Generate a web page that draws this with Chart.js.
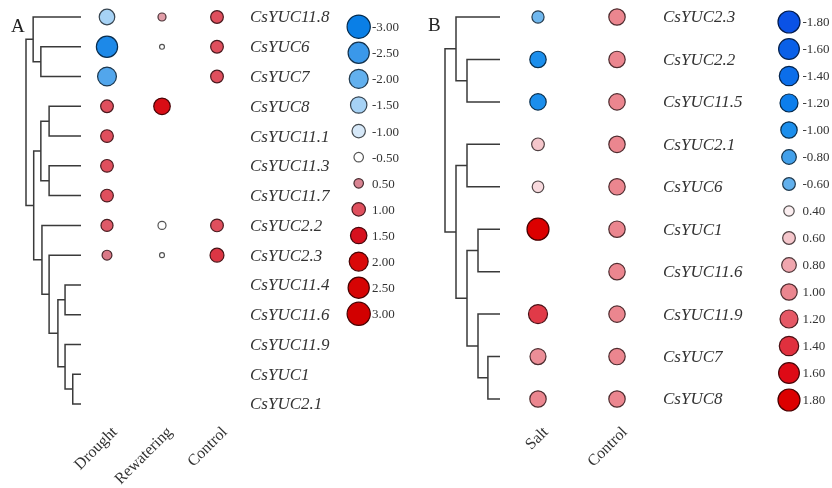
<!DOCTYPE html>
<html>
<head>
<meta charset="utf-8">
<script src="https://cdn.jsdelivr.net/npm/chart.js@4.4.1/dist/chart.umd.min.js"></script>
<style>
  html, body { margin: 0; padding: 0; background: #ffffff; }
  #wrap { display: flex; width: 832px; height: 488px; }
  canvas { display: block; }
</style>
</head>
<body>
<div id="wrap">
  <canvas id="panelA" width="416" height="488"></canvas>
  <canvas id="panelB" width="416" height="488"></canvas>
</div>
<script>
// ---------- Panel A: drought / rewatering ----------
const genesA = ['CsYUC11.8', 'CsYUC6', 'CsYUC7', 'CsYUC8', 'CsYUC11.1', 'CsYUC11.3', 'CsYUC11.7',
                'CsYUC2.2', 'CsYUC2.3', 'CsYUC11.4', 'CsYUC11.6', 'CsYUC11.9', 'CsYUC1', 'CsYUC2.1'];
const conditionsA = ['Drought', 'Rewatering', 'Control'];
const droughtA    = [-1.5, -2.8, -2.2, 1.0, 1.0, 1.0, 1.0, 0.9, 0.6, null, null, null, null, null];
const rewateringA = [0.4, -0.15, null, 1.7, null, null, null, -0.4, -0.15, null, null, null, null, null];
const controlA    = [1.0, 1.0, 1.0, null, null, null, null, 1.0, 1.2, null, null, null, null, null];
const legendA     = [-3.0, -2.5, -2.0, -1.5, -1.0, -0.5, 0.5, 1.0, 1.5, 2.0, 2.5, 3.0];
// cluster tree: [merge height, left, right]
const treeA = [1.0,
  [0.87, 'CsYUC11.8', [0.73, 'CsYUC6', 'CsYUC7']],
  [0.86,
    [0.73, [0.58, 'CsYUC8', 'CsYUC11.1'], [0.58, 'CsYUC11.3', 'CsYUC11.7']],
    [0.71, 'CsYUC2.2',
      [0.58, 'CsYUC2.3',
        [0.42, [0.29, 'CsYUC11.4', 'CsYUC11.6'],
               [0.29, 'CsYUC11.9', [0.15, 'CsYUC1', 'CsYUC2.1']]]]]]];

// ---------- Panel B: salt ----------
const genesB = ['CsYUC2.3', 'CsYUC2.2', 'CsYUC11.5', 'CsYUC2.1', 'CsYUC6', 'CsYUC1',
                'CsYUC11.6', 'CsYUC11.9', 'CsYUC7', 'CsYUC8'];
const conditionsB = ['Salt', 'Control'];
const saltB    = [-0.55, -1.0, -1.0, 0.6, 0.5, 1.8, null, 1.35, 0.95, 1.0];
const controlB = [1.0, 1.0, 1.0, 1.0, 1.0, 1.0, 1.0, 1.0, 1.0, 1.0];
const legendB  = [-1.8, -1.6, -1.4, -1.2, -1.0, -0.8, -0.6, 0.4, 0.6, 0.8, 1.0, 1.2, 1.4, 1.6, 1.8];
const treeB = [1.0,
  [0.8, 'CsYUC2.3', [0.6, 'CsYUC2.2', 'CsYUC11.5']],
  [0.8,
    [0.6, 'CsYUC2.1', 'CsYUC6'],
    [0.6, [0.4, 'CsYUC1', 'CsYUC11.6'],
          [0.4, 'CsYUC11.9', [0.22, 'CsYUC7', 'CsYUC8']]]]];

// ---------- colour ramps (value -> fill) ----------
const rampA = [[-3.0, '#0a7fe6'], [-2.5, '#3a98ea'], [-2.0, '#62b0ee'], [-1.5, '#a6d2f5'],
               [-1.0, '#d6e8f8'], [-0.5, '#ffffff'], [0, '#ffffff'], [0.5, '#d98492'],
               [1.0, '#df4f5d'], [1.5, '#d6101e'], [2.0, '#da0808'], [3.0, '#d20000']];
const rampB = [[-1.8, '#0a52e6'], [-1.6, '#0a60e8'], [-1.4, '#0b6eea'], [-1.2, '#0c7eec'],
               [-1.0, '#1b8eec'], [-0.8, '#42a0ea'], [-0.6, '#62b0ec'], [0, '#ffffff'],
               [0.4, '#fbeef0'], [0.6, '#f5c6cb'], [0.8, '#f0a6ae'], [1.0, '#eb868f'],
               [1.2, '#e55865'], [1.4, '#e0303e'], [1.6, '#de0a16'], [1.8, '#dc0000']];

function hexRgb(h) {
  return [parseInt(h.slice(1, 3), 16), parseInt(h.slice(3, 5), 16), parseInt(h.slice(5, 7), 16)];
}
function rampRgb(ramp, v) {
  if (v <= ramp[0][0]) return hexRgb(ramp[0][1]);
  for (let i = 1; i < ramp.length; i++) {
    if (v <= ramp[i][0]) {
      const t = (v - ramp[i - 1][0]) / (ramp[i][0] - ramp[i - 1][0]);
      const a = hexRgb(ramp[i - 1][1]), b = hexRgb(ramp[i][1]);
      return a.map((c, k) => Math.round(c + (b[k] - c) * t));
    }
  }
  return hexRgb(ramp[ramp.length - 1][1]);
}
const rgbStr = c => `rgb(${c[0]},${c[1]},${c[2]})`;
const fillOf = (ramp, v) => rgbStr(rampRgb(ramp, v));
const edgeOf = (ramp, v) => rgbStr(rampRgb(ramp, v).map(c => Math.round(c * 0.33)));

// linear range so that value a sits at pixel pa and b at pb inside [lo, hi]
function fitRange(a, pa, b, pb, lo, hi) {
  const s = (pb - pa) / (b - a);
  const v1 = a + (lo - pa) / s, v2 = a + (hi - pa) / s;
  return { min: Math.min(v1, v2), max: Math.max(v1, v2), slope: s };
}

// dendrogram: one elbow polyline per merge
function treeSegments(node, genes, out) {
  if (typeof node === 'string') return { y: genes.indexOf(node), h: 0 };
  const l = treeSegments(node[1], genes, out);
  const r = treeSegments(node[2], genes, out);
  out.push([{ x: l.h, y: l.y }, { x: node[0], y: l.y }, { x: node[0], y: r.y }, { x: r.h, y: r.y }]);
  return { y: (l.y + r.y) / 2, h: node[0] };
}

const SERIF = '"Liberation Serif", "DejaVu Serif", serif';

function buildPanel(canvasId, p) {
  const AXIS_H = 69;

  const segs = [];
  treeSegments(p.tree, p.genes, segs);
  const treeSets = segs.map(pts => ({
    type: 'scatter', data: pts, xAxisID: 'xTree', yAxisID: 'y',
    showLine: true, borderColor: '#3a3a3a', borderWidth: 1.5, pointRadius: 0,
    tension: 0, fill: false, clip: false
  }));

  const bubbleSets = p.series.map((vals, ci) => ({
    type: 'bubble',
    data: vals.map((v, ri) => v === null ? null : { x: ci, y: ri, r: p.radius(v), v: v })
              .filter(d => d !== null),
    xAxisID: 'x', yAxisID: 'y', clip: false,
    backgroundColor: ctx => fillOf(p.ramp, ctx.raw ? ctx.raw.v : 0),
    borderColor: ctx => edgeOf(p.ramp, ctx.raw ? ctx.raw.v : 0),
    borderWidth: 1.2
  }));

  const decor = {
    id: 'decor' + canvasId,
    afterDatasetsDraw(chart) {
      const c = chart.ctx, ys = chart.scales.y;
      c.save();
      // gene names
      c.fillStyle = '#333333';
      c.font = 'italic 17px ' + SERIF;
      c.textAlign = 'left';
      c.textBaseline = 'middle';
      p.genes.forEach((g, i) => c.fillText(g, p.labelX, ys.getPixelForValue(i) + 1));
      // size / colour key
      p.legend.forEach((v, i) => {
        const y = p.legTop + i * p.legStep;
        c.beginPath();
        c.arc(p.legX, y, p.legRadius(v), 0, Math.PI * 2);
        c.fillStyle = fillOf(p.ramp, v);
        c.fill();
        c.lineWidth = 1.2;
        c.strokeStyle = edgeOf(p.ramp, v);
        c.stroke();
        c.fillStyle = '#333333';
        c.font = '13px ' + SERIF;
        c.textAlign = 'left';
        c.textBaseline = 'middle';
        c.fillText(v.toFixed(2), p.legTextX, y + 1);
      });
      // panel letter
      c.fillStyle = '#222222';
      c.font = '19px ' + SERIF;
      c.textBaseline = 'alphabetic';
      c.fillText(p.letter, p.letterX, p.letterY);
      c.restore();
    }
  };

  const chart = new Chart(document.getElementById(canvasId), {
    type: 'scatter',
    data: { datasets: [...treeSets, ...bubbleSets] },
    plugins: [decor],
    options: {
      responsive: false,
      animation: false,
      events: [],
      layout: { padding: 0 },
      plugins: { legend: { display: false }, tooltip: { enabled: false } },
      scales: {
        x: {
          type: 'linear', position: 'bottom', min: 0, max: 1,
          grid: { display: false, drawTicks: false }, border: { display: false },
          afterBuildTicks: s => { s.ticks = p.conditions.map((_, i) => ({ value: i })); },
          afterFit: s => { s.height = AXIS_H; },
          ticks: {
            autoSkip: false, minRotation: 45, maxRotation: 45,
            padding: p.tickPad, labelOffset: p.tickShift,
            color: '#333333', font: { family: SERIF, size: 16 },
            callback: (val, i) => p.conditions[i]
          }
        },
        xTree: { type: 'linear', display: false, min: 0, max: 1 },
        y: { type: 'linear', display: false, min: 0, max: 1 }
      }
    }
  });

  // place rows, columns and tree heights at their layout pixels within the plot area
  function placeScales() {
    const a = chart.chartArea, sc = chart.options.scales;
    const yR = fitRange(0, p.rowFirst, p.genes.length - 1, p.rowLast, a.top, a.bottom);
    const xR = fitRange(0, p.colFirst, 1, p.colSecond, a.left, a.right);
    const tR = fitRange(0, p.leafX, 1, p.rootX, a.left, a.right);
    Object.assign(sc.y, { min: yR.min, max: yR.max, reverse: yR.slope > 0 });
    Object.assign(sc.x, { min: xR.min, max: xR.max, reverse: xR.slope < 0 });
    Object.assign(sc.xTree, { min: tR.min, max: tR.max, reverse: tR.slope < 0 });
    chart.update();
  }
  for (let k = 0; k < 4; k++) placeScales();
  return chart;
}

buildPanel('panelA', {
  genes: genesA, conditions: conditionsA, series: [droughtA, rewateringA, controlA],
  tree: treeA, legend: legendA, ramp: rampA,
  radius: v => 6.35 * Math.sqrt(Math.abs(v)),
  legRadius: v => 6.7 * Math.sqrt(Math.abs(v)),
  rowFirst: 17, rowLast: 404, colFirst: 107, colSecond: 162,
  leafX: 81, rootX: 26, labelX: 250,
  legX: 358.7, legTextX: 372, legTop: 26.7, legStep: 26.1,
  letter: 'A', letterX: 11, letterY: 32, tickPad: 4, tickShift: 8
});

buildPanel('panelB', {
  genes: genesB, conditions: conditionsB, series: [saltB, controlB],
  tree: treeB, legend: legendB, ramp: rampB,
  radius: v => 8.2 * Math.sqrt(Math.abs(v)),
  legRadius: v => 8.2 * Math.sqrt(Math.abs(v)),
  rowFirst: 17, rowLast: 399, colFirst: 122, colSecond: 201,
  leafX: 84, rootX: 29, labelX: 247,
  legX: 373, legTextX: 386.5, legTop: 22, legStep: 27,
  letter: 'B', letterX: 12, letterY: 31, tickPad: 4, tickShift: 8
});
</script>
</body>
</html>
